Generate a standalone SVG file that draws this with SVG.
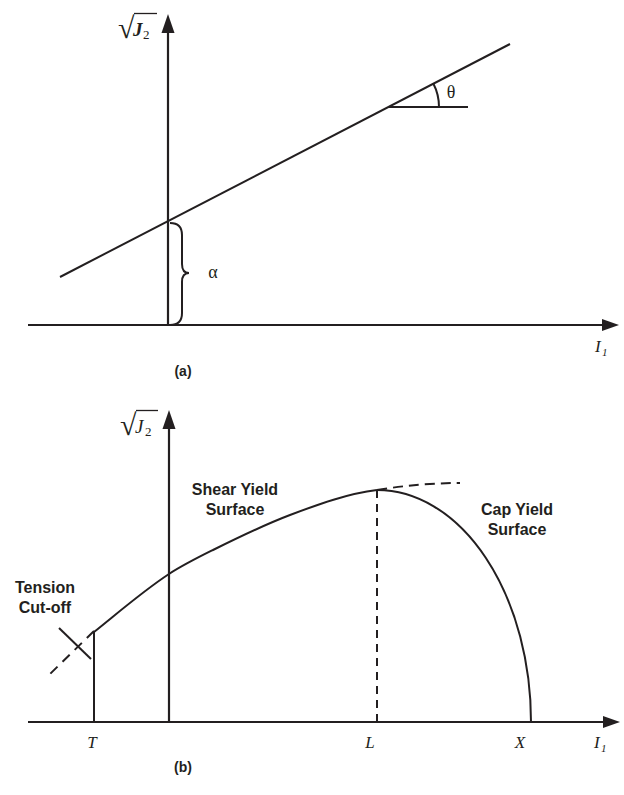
<svg xmlns="http://www.w3.org/2000/svg" width="624" height="795" viewBox="0 0 624 795">
<style>
.ln{stroke:#231f20;stroke-width:2;fill:none}
.ax{stroke:#231f20;stroke-width:2.2;fill:none}
.dash{stroke:#231f20;stroke-width:2;fill:none}
.ah{fill:#231f20}
.lbl{font-family:"Liberation Sans",Arial,sans-serif;font-weight:bold;font-size:16px;fill:#231f20;text-anchor:middle}
.cap{font-family:"Liberation Sans",Arial,sans-serif;font-weight:bold;font-size:14px;fill:#231f20;text-anchor:middle}
.m{font-family:"Liberation Serif","Times New Roman",serif;font-style:italic;font-size:17px;fill:#231f20}
.g{font-family:"Liberation Serif","Times New Roman",serif;font-size:18px;fill:#231f20}
.rad{font-family:"Liberation Serif","DejaVu Serif",serif;font-size:30px;fill:#231f20}
.sub{font-family:"Liberation Serif","Times New Roman",serif;font-size:13px;fill:#231f20}
.subi{font-family:"Liberation Serif","Times New Roman",serif;font-style:italic;font-size:11px;fill:#231f20}
.jb{font-family:"Liberation Serif","Times New Roman",serif;font-style:italic;font-weight:bold;font-size:19px;fill:#231f20}
.j{font-family:"Liberation Serif","Times New Roman",serif;font-style:italic;font-size:19px;fill:#231f20}
</style>
<rect width="624" height="795" fill="#ffffff"/>
<!-- Panel (a) -->
<g id="axes-a">
<line class="ax" x1="168" y1="325" x2="168" y2="28"/>
<polygon class="ah" points="168,14 161.5,33 174.5,33"/>
<line class="ax" x1="28" y1="325" x2="606" y2="325"/>
<polygon class="ah" points="619,325 602,319 602,331"/>
</g>
<g id="label-sqrtJ2-a">
<text class="rad" x="118" y="38">√</text>
<line class="ln" x1="134" y1="13.5" x2="157" y2="13.5" style="stroke-width:1.3"/>
<text class="jb" x="133" y="36">J</text>
<text class="sub" x="143" y="39">2</text>
</g>
<g id="label-I1-a">
<text class="m" x="595" y="352">I</text>
<text class="subi" x="602" y="356">1</text>
</g>
<g id="connectors">
<line class="ln" x1="60" y1="277" x2="510" y2="44"/>
<line class="ln" x1="388" y1="107" x2="468" y2="107"/>
<path class="ln" d="M433.3,83.5 A51,51 0 0 1 439,107"/>
<path class="ln" d="M170,223 Q182,223 182,235 L182,264 Q182,273 189,273 Q182,273 182,282 L182,313 Q182,325 170,325"/>
</g>
<g id="label-theta"><text class="g" x="451" y="98" text-anchor="middle">θ</text></g>
<g id="label-alpha"><text class="g" x="213" y="278" text-anchor="middle">α</text></g>
<g id="caption-a"><text class="cap" x="183" y="376">(a)</text></g>
<!-- Panel (b) -->
<g id="axes-b">
<line class="ax" x1="169" y1="722" x2="169" y2="424"/>
<polygon class="ah" points="169,410 162.5,429 175.5,429"/>
<line class="ax" x1="28" y1="722" x2="606" y2="722"/>
<polygon class="ah" points="620,722 603,716 603,728"/>
</g>
<g id="label-sqrtJ2-b">
<text class="rad" x="120" y="435">√</text>
<line class="ln" x1="136" y1="410.5" x2="158" y2="410.5" style="stroke-width:1.3"/>
<text class="j" x="135" y="433">J</text>
<text class="sub" x="145" y="436">2</text>
</g>
<g id="curves-b">
<line class="ln" x1="94" y1="632" x2="94" y2="722"/>
<path class="ln" d="M94,632 C119,612 144,590.3 169,574 C183.7,564.5 198.3,557.3 213,550 C238.7,537.2 264.3,524.8 290,515 C319,504 348,493.5 377,490"/>
<path class="ln" d="M377,490 A154,232 0 0 1 531,722"/>
<path class="dash" style="stroke-dasharray:10,6" d="M377,490 Q420,483 460,483"/>
<line class="dash" style="stroke-dasharray:8,6" x1="377" y1="490" x2="377" y2="722"/>
<line class="dash" style="stroke-dasharray:10,7" x1="94" y1="631" x2="50" y2="674"/>
<line class="ln" x1="59" y1="628" x2="91" y2="659"/>
</g>
<g id="label-tension"><text class="lbl" x="45" y="593">Tension</text><text class="lbl" x="45" y="613">Cut-off</text></g>
<g id="label-shear"><text class="lbl" x="235" y="495">Shear Yield</text><text class="lbl" x="235" y="515">Surface</text></g>
<g id="label-cap"><text class="lbl" x="517" y="515">Cap Yield</text><text class="lbl" x="517" y="535">Surface</text></g>
<g id="ticks-b">
<text class="m" x="92" y="748" text-anchor="middle">T</text>
<text class="m" x="370" y="748" text-anchor="middle">L</text>
<text class="m" x="520" y="748" text-anchor="middle">X</text>
<text class="m" x="594" y="748">I</text>
<text class="subi" x="601" y="752">1</text>
</g>
<g id="caption-b"><text class="cap" x="183" y="772">(b)</text></g>
</svg>
